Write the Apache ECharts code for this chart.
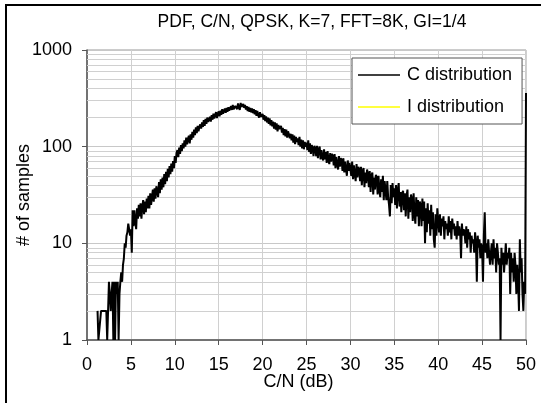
<!DOCTYPE html>
<html>
<head>
<meta charset="utf-8">
<script src="https://cdn.jsdelivr.net/npm/echarts@6/dist/echarts.min.js"></script>
<style>
html,body{margin:0;padding:0;background:#fff;}
#chart{width:541px;height:403px;}
</style>
</head>
<body>
<div id="chart"></div>
<script>
// ---- data ----
const titleText = 'PDF, C/N, QPSK, K=7, FFT=8K, GI=1/4';
const xName = 'C/N (dB)';
const yName = '# of samples';
const seriesNames = ['C distribution', 'I distribution'];
const xTicks = [0, 5, 10, 15, 20, 25, 30, 35, 40, 45, 50];
const yTicks = [1, 10, 100, 1000];
const yMinorGrid = [2,3,4,5,6,7,8,9,20,30,40,50,60,70,80,90,200,300,400,500,600,700,800,900];

// C/N bins: 0.1 dB steps starting at 1.2 dB
const binStart = 1.2;
const binStep = 0.1;

// counts, 1.2 .. 9.9 dB
const countsRise = [
  2,1,1,1,2,2,2,2,
  2,2,2,1,1,4,3,2,3,4,
  1,4,1,4,3,4,1,3,4,5,
  4,6,7,10,9,12,13,16,14,12,
  14,8,22,15,22,17,14,23,18,25,
  19,26,18,24,28,20,27,21,29,23,
  31,23,33,25,30,36,27,37,29,39,
  38,30,43,33,46,36,48,38,52,41,
  55,44,59,48,63,52,67,55,71,60
];
// counts, 10.0 .. 24.9 dB
const countsPeak = [
  80,68,86,92,78,98,84,104,90,108,
  96,116,100,124,106,120,130,108,134,118,
  142,124,150,132,158,138,164,144,160,170,
  154,178,160,188,164,194,172,200,180,174,
  204,182,212,190,220,196,214,228,198,220,
  232,206,236,214,244,220,210,248,224,252,
  230,256,236,226,262,240,270,244,234,264,
  272,244,280,254,240,284,258,248,276,252,
  270,242,262,234,258,230,252,226,248,222,
  244,216,238,208,234,212,200,228,204,196,
  218,190,212,184,206,178,200,172,196,166,
  188,162,182,154,178,150,174,144,168,152,
  158,164,140,156,132,152,128,150,124,144,
  140,122,136,116,134,110,130,106,126,112,
  122,104,126,100,118,96,116,94,112,100
];
// counts, 25.0 .. 39.9 dB
const countsTail = [
  110,92,116,88,108,84,104,96,80,102,
  96,80,102,76,94,100,74,92,78,72,
  94,74,88,68,90,72,66,86,70,84,
  80,64,84,60,78,66,58,80,62,76,
  72,56,76,54,70,58,50,72,56,68,
  66,50,70,46,64,52,44,66,48,62,
  58,44,62,40,56,60,38,54,42,58,
  52,38,56,34,50,54,32,48,36,51,
  48,32,50,36,30,46,34,50,28,44,
  42,28,44,30,25,19,40,26,42,30,
  37,25,40,23,35,42,24,34,21,33,
  35,22,33,19,31,36,18,30,21,32,
  29,17,33,20,16,30,19,28,15,27,
  25,15,29,17,27,10,23,13,26,16,
  22,12,25,14,21,11,9,20,12,23
];
// counts, 40.0 .. 50.0 dB (last bin collects everything >= 50 dB)
const countsEnd = [
  17,13,20,12,18,15,19,11,17,14,
  16,12,19,13,17,11,18,14,16,12,
  15,11,17,12,15,13,7,16,12,14,
  13,10,15,9,14,11,13,8,12,10,
  11,8,13,10,4,12,9,11,7,10,
  9,4,12,21,8,10,7,11,8,6,
  8,10,6,11,7,9,5,10,8,6,
  7,1,9,6,8,5,7,10,6,8,
  7,9,3,8,5,7,4,8,6,3,
  6,4,2,11,5,7,3,2,4,3,
  360
];
// I distribution: no visible (non-zero) samples in the reference
const countsI = [];

const cCounts = countsRise.concat(countsPeak, countsTail, countsEnd);
const cData = cCounts.map((v, i) => [Math.round((binStart + i * binStep) * 10) / 10, v]);

const chart = echarts.init(document.getElementById('chart'), null, {renderer: 'canvas'});
const font = 'Liberation Sans, Arial, sans-serif';

chart.setOption({
  animation: false,
  backgroundColor: '#ffffff',
  textStyle: {fontFamily: font},
  graphic: [{
    type: 'rect',
    shape: {x: 6, y: 5, width: 700, height: 600},
    style: {fill: 'none', stroke: '#000', lineWidth: 2},
    silent: true, z: 100
  }],
  title: {
    text: titleText,
    left: 307, top: 8, textAlign: 'center',
    textStyle: {fontFamily: font, fontSize: 17.5, fontWeight: 'normal', color: '#000'}
  },
  legend: {
    data: seriesNames,
    orient: 'vertical',
    left: 352, top: 58,
    icon: 'rect',
    itemWidth: 42, itemHeight: 1.5, itemGap: 14,
    padding: [8, 10, 8, 6],
    backgroundColor: '#fff',
    borderColor: '#555', borderWidth: 1,
    textStyle: {fontFamily: font, fontSize: 18, color: '#000', padding: [0, 0, 0, 2]},
    selectedMode: false,
    z: 10
  },
  grid: {
    left: 87, right: 15, top: 50, bottom: 63,
    outerBoundsMode: 'none',
    containLabel: false,
    show: true, borderColor: '#999', borderWidth: 1, backgroundColor: '#fff'
  },
  xAxis: {
    type: 'value', min: 0, max: 50, interval: 5,
    name: xName, nameLocation: 'middle', nameGap: 33, nameMoveOverlap: false,
    nameTextStyle: {fontFamily: font, fontSize: 18, color: '#000', padding: [0, 16, 0, 0]},
    axisLine: {show: true, lineStyle: {color: '#555', width: 1.5}},
    axisTick: {show: true, inside: false, length: 5, lineStyle: {color: '#555'}},
    axisLabel: {fontFamily: font, fontSize: 18, color: '#000', margin: 16,
      formatter: v => xTicks.indexOf(v) >= 0 ? String(v) : ''},
    splitLine: {show: true, lineStyle: {color: '#d0d0d0', width: 1}}
  },
  yAxis: {
    type: 'log', logBase: 10, min: 1, max: 1000,
    name: yName, nameLocation: 'middle', nameGap: 54, nameRotate: 90, nameMoveOverlap: false,
    nameTextStyle: {fontFamily: font, fontSize: 18, color: '#000'},
    axisLine: {show: true, lineStyle: {color: '#555', width: 1.5}},
    axisTick: {show: true, inside: false, length: 5, lineStyle: {color: '#555'}},
    axisLabel: {fontFamily: font, fontSize: 18, color: '#000', margin: 15,
      formatter: v => yTicks.indexOf(Math.round(v)) >= 0 ? String(Math.round(v)) : ''},
    splitLine: {show: true, lineStyle: {color: '#c8c8c8', width: 1}},
    minorTick: {show: false},
    minorSplitLine: {show: false}
  },
  series: [
    {
      name: '_grid',
      type: 'line',
      data: [],
      silent: true,
      z: 1,
      markLine: {
        silent: true,
        z: 1,
        symbol: ['none', 'none'],
        label: {show: false},
        lineStyle: {color: '#d0d0d0', width: 1, type: 'solid'},
        emphasis: {disabled: true},
        data: yMinorGrid.map(v => ({yAxis: v}))
      }
    },
    {
      name: seriesNames[0],
      type: 'line',
      data: cData,
      symbol: 'none',
      z: 5,
      lineStyle: {color: '#000', width: 2},
      itemStyle: {color: '#000'}
    },
    {
      name: seriesNames[1],
      type: 'line',
      data: countsI,
      symbol: 'none',
      z: 4,
      lineStyle: {color: '#ffff00', width: 1.6},
      itemStyle: {color: '#ffff00'}
    }
  ]
});
</script>
</body>
</html>
